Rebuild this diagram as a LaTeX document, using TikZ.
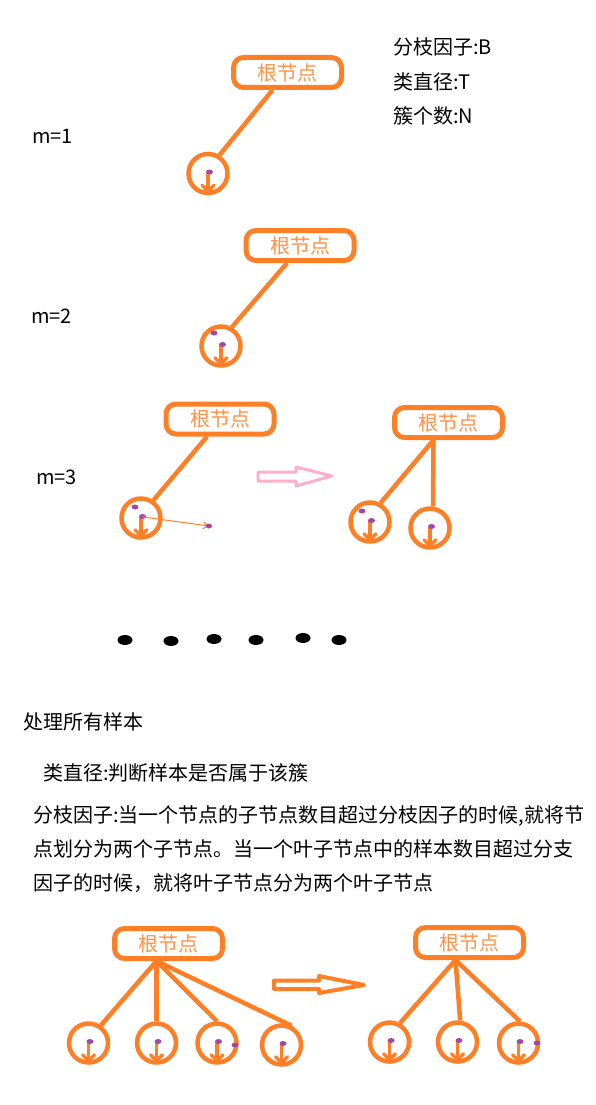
\documentclass[tikz,border=0pt]{standalone}
\usepackage{fontspec}
\usetikzlibrary{arrows.meta}
\newfontfamily\cjk{Noto Sans CJK SC}
\definecolor{paintorange}{RGB}{255,127,39}
\definecolor{paintpurple}{RGB}{163,73,164}
\definecolor{paintpink}{RGB}{255,174,201}
% a sample inside a leaf: arrow down to the ring, dot on top
\newcommand{\sample}[1]{%
  \draw[stemline] (#1.center) -- ([yshift=4pt]#1.south);
  \draw[stemline] ([xshift=-6pt,yshift=10pt]#1.south) -- ([yshift=4pt]#1.south)
    -- ([xshift=6pt,yshift=10pt]#1.south);
  \fill[sampledot] ([xshift=1.5pt,yshift=1.5pt]#1.center) ellipse (3.5pt and 2.5pt);}
\begin{document}
\begin{tikzpicture}[x=1pt, y=-1pt,
  every node/.style={font=\cjk\fontsize{20}{24}\selectfont},
  txt/.style={anchor=west, inner sep=0pt},
  root/.style={draw=paintorange, text=paintorange!85, line width=5pt, rounded corners=10pt,
    minimum width=108pt, minimum height=30pt, inner sep=0pt},
  leaf/.style={draw=paintorange, circle, line width=4.5pt, minimum size=39pt, inner sep=0pt},
  branch/.style={draw=paintorange, line width=4.5pt},
  stemline/.style={draw=paintorange, line width=3.5pt, line cap=round},
  sampledot/.style={fill=paintpurple},
  hollow/.style={fill=white, line width=3pt, line join=round}]
\path[fill=white, use as bounding box] (0,0) rectangle (596,1105);

% parameters
\node[txt] (bfactor) at (393,47) {分枝因子:B};
\node[txt] (diam) at (393,82) {类直径:T};
\node[txt] (count) at (393,116) {簇个数:N};

% m=1
\node[txt] (mone) at (32,136) {m=1};
\node[root] (r1) at (287.5,72.5) {根节点};
\node[leaf] (a1) at (208,173.5) {};
\draw[branch] ([xshift=-15pt]r1.south) -- (a1.58);
\sample{a1}

% m=2
\node[txt] (mtwo) at (31,316) {m=2};
\node[root] (r2) at (300,245.5) {根节点};
\node[leaf] (a2) at (221,346) {};
\draw[branch] ([xshift=-13pt]r2.south) -- (a2.60);
\sample{a2}
\fill[sampledot] ([xshift=-7pt,yshift=13pt]a2.center) ellipse (3.5pt and 2.5pt);

% m=3, before the split
\node[txt] (mthree) at (36,477) {m=3};
\node[root] (r3) at (220,419) {根节点};
\node[leaf] (a3) at (141,518) {};
\draw[branch] ([xshift=-13pt]r3.south) -- (a3.55);
\sample{a3}
\fill[sampledot] ([xshift=-6pt,yshift=11pt]a3.center) ellipse (3.5pt and 2.5pt);
\coordinate (moved) at (209,526);
\draw[paintorange, line width=1pt, -{Straight Barb[length=5pt,width=7pt]}]
  ([xshift=2pt,yshift=1pt]a3.center) -- (moved);
\fill[sampledot] (moved) ellipse (3pt and 2.5pt);

\draw[hollow, draw=paintpink] (258,472) -- (296,472) -- (296,467) -- (332,476)
  -- (296,486) -- (296,481) -- (258,481) -- cycle;

% m=3, after the split
\node[root] (r4) at (448.5,422.5) {根节点};
\node[leaf] (a4) at (370,522) {};
\node[leaf] (a5) at (430,528) {};
\draw[branch] ([xshift=-15pt]r4.south) -- (a4.61);
\draw[branch] ([xshift=-15pt]r4.south) -- (a5.82);
\sample{a4}
\sample{a5}
\fill[sampledot] ([xshift=-8pt,yshift=11pt]a4.center) ellipse (3.5pt and 2.5pt);

% and so on
\foreach \x/\y in {125/640, 171/641, 214/639, 256/640, 303/638, 339/640}
  \fill (\x,\y) ellipse (7.5pt and 5pt);

% explanation
\node[txt] (all) at (23,722) {处理所有样本};
\node[txt] (diamnote) at (43,773) {类直径:判断样本是否属于该簇};
\node[txt] (line1) at (33,816) {分枝因子:当一个节点的子节点数目超过分枝因子的时候,就将节};
\node[txt] (line2) at (33,849) {点划分为两个子节点。当一个叶子节点中的样本数目超过分支};
\node[txt] (line3) at (33,883) {因子的时候，就将叶子节点分为两个叶子节点};

% split of a full node
\node[root] (r5) at (168.5,943.5) {根节点};
\node[leaf] (b1) at (88.5,1043) {};
\node[leaf] (b2) at (156.5,1043) {};
\node[leaf] (b3) at (217,1043) {};
\node[leaf] (b4) at (281.5,1045) {};
\draw[branch] ([xshift=-12pt]r5.south) -- (b1.55);
\draw[branch] ([xshift=-12pt]r5.south) -- (b2.north);
\draw[branch] ([xshift=-12pt]r5.south) -- (b3.north);
\draw[branch] ([xshift=-12pt]r5.south) -- (b4.62);
\foreach \b in {b1,b2,b3,b4} {\sample{\b}}
\fill[sampledot] ([xshift=18pt,yshift=-2pt]b3.center) ellipse (3.5pt and 2.5pt);

\draw[hollow, draw=paintorange, line width=4pt] (274,980.5) -- (319,980.5) -- (319,976)
  -- (364,985) -- (319,993) -- (319,989) -- (274,989) -- cycle;

\node[root] (r6) at (469.5,942.5) {根节点};
\node[leaf] (d1) at (389.5,1042) {};
\node[leaf] (d2) at (457.5,1042) {};
\node[leaf] (d3) at (518.5,1043) {};
\draw[branch] ([xshift=-14pt]r6.south) -- (d1.61);
\draw[branch] ([xshift=-14pt]r6.south) -- (d2.83);
\draw[branch] ([xshift=-14pt]r6.south) -- (d3.86);
\foreach \d in {d1,d2,d3} {\sample{\d}}
\fill[sampledot] ([xshift=18.5pt]d3.center) ellipse (3.5pt and 2.5pt);
\end{tikzpicture}
\end{document}
